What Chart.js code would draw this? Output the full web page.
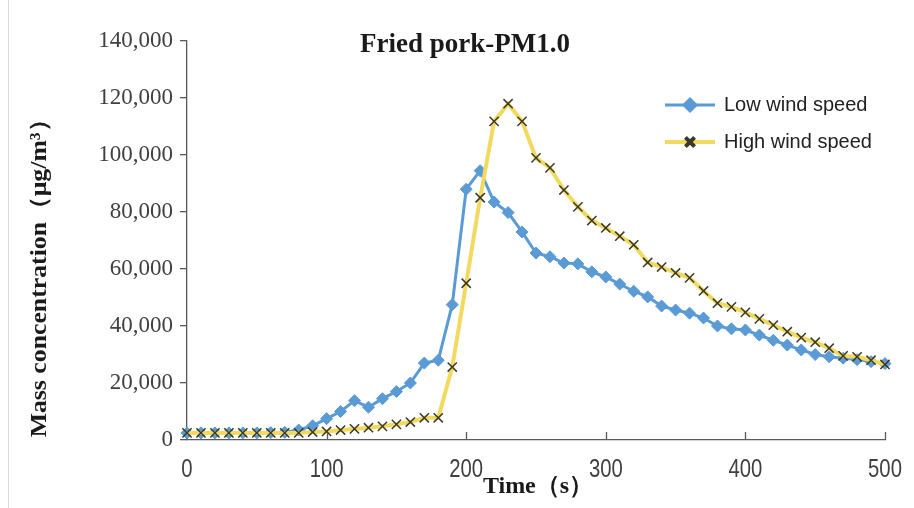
<!DOCTYPE html>
<html>
<head>
<meta charset="utf-8">
<script src="https://cdn.jsdelivr.net/npm/chart.js@4.4.0/dist/chart.umd.min.js"></script>
<style>
  html, body { margin: 0; padding: 0; background: #fff; }
  #wrap { width: 914px; height: 508px; }
</style>
</head>
<body>
<div id="wrap"><canvas id="pmChart" width="914" height="508"></canvas></div>
<script>
// sampling times (s)
const times = [0, 10, 20, 30, 40, 50, 60, 70, 80, 90,
  100, 110, 120, 130, 140, 150, 160, 170, 180, 190,
  200, 210, 220, 230, 240, 250, 260, 270, 280, 290,
  300, 310, 320, 330, 340, 350, 360, 370, 380, 390,
  400, 410, 420, 430, 440, 450, 460, 470, 480, 490, 500];

// PM1.0 mass concentration, ug/m3
const lowWind = [2500, 2500, 2500, 2500, 2500, 2500, 2600, 2700, 3500, 5000,
  7500, 10000, 13800, 11500, 14500, 17000, 20000, 27000, 28000, 47500,
  88000, 94500, 83500, 79800, 73000, 65600, 64300, 62100, 61800, 59000,
  57200, 54700, 52200, 50200, 47000, 45600, 44500, 42800, 40000, 39000,
  38600, 36800, 35000, 33300, 31600, 30000, 29200, 28700, 28200, 27500, 26800];

const highWind = [2500, 2500, 2500, 2500, 2500, 2500, 2500, 2500, 2500, 2800,
  3000, 3500, 3900, 4300, 4800, 5500, 6300, 7800, 7800, 25600,
  55000, 85000, 111800, 118000, 111800, 99000, 95500, 87700, 81800, 77000,
  74400, 71500, 68500, 62300, 60700, 58600, 56900, 52300, 48000, 46700,
  44800, 42500, 40300, 38000, 35900, 34300, 32200, 29500, 29200, 28000, 26500];

const seriesNames = ['Low wind speed', 'High wind speed'];
const xTicks = [0, 100, 200, 300, 400, 500];
const yTicks = [0, 20000, 40000, 60000, 80000, 100000, 120000, 140000];

const axisColor = '#595959';
const blue = '#5B9BD5';
const yellow = '#F2DA60';
const crossColor = '#3b3a26';

function toPoints(vals) {
  return times.map((t, i) => ({ x: t, y: vals[i] }));
}

// titles, narrow x labels, inward x ticks and the in-plot legend
const decor = {
  id: 'decor',
  beforeDraw(chart) {
    const ctx = chart.ctx;
    ctx.save();
    ctx.fillStyle = '#fff';
    ctx.fillRect(0, 0, chart.width, chart.height);
    ctx.strokeStyle = '#dcdcdc';
    ctx.lineWidth = 1;
    ctx.beginPath();
    ctx.moveTo(8.5, 0);
    ctx.lineTo(8.5, chart.height);
    ctx.stroke();
    ctx.restore();
  },
  beforeDatasetsDraw(chart) {
    const { ctx, chartArea, scales: { x } } = chart;
    ctx.save();
    ctx.strokeStyle = axisColor;
    ctx.lineWidth = 1.3;
    xTicks.forEach(v => {
      if (v === 0) return;
      const px = Math.round(x.getPixelForValue(v)) + 0.5;
      ctx.beginPath();
      ctx.moveTo(px, chartArea.bottom);
      ctx.lineTo(px, chartArea.bottom - 8);
      ctx.stroke();
    });
    ctx.restore();
  },
  afterDraw(chart) {
    const { ctx, chartArea, scales: { x } } = chart;
    ctx.save();
    ctx.textBaseline = 'middle';
    ctx.textAlign = 'center';

    // x tick labels in a condensed face
    ctx.fillStyle = '#404040';
    ctx.font = '26px "Liberation Sans", Arial, sans-serif';
    xTicks.forEach(v => {
      ctx.save();
      ctx.translate(x.getPixelForValue(v), chartArea.bottom + 30);
      ctx.scale(0.78, 1);
      ctx.fillText(String(v), 0, 0);
      ctx.restore();
    });

    ctx.fillStyle = '#1a1a1a';

    // chart title
    ctx.font = 'bold 27px "Liberation Serif", serif';
    ctx.fillText('Fried pork-PM1.0', 465, 45);

    // x axis title, sits over the tick labels
    ctx.font = 'bold 24px "Liberation Serif", serif';
    ctx.fillText('Time（s）', (chartArea.left + chartArea.right) / 2 + 2, 487);

    // y axis title
    ctx.save();
    ctx.translate(40, 272);
    ctx.rotate(-Math.PI / 2);
    ctx.scale(1.12, 1);
    ctx.font = 'bold 23px "Liberation Serif", serif';
    ctx.fillText('Mass concentration（μg/m³）', 0, 0);
    ctx.restore();

    // legend
    const rows = [
      { y: 105, ds: chart.data.datasets[0] },
      { y: 142, ds: chart.data.datasets[1] }
    ];
    rows.forEach(r => {
      ctx.strokeStyle = r.ds.borderColor;
      ctx.lineWidth = r.ds.borderWidth;
      ctx.beginPath();
      ctx.moveTo(665, r.y);
      ctx.lineTo(715, r.y);
      ctx.stroke();
      ctx.fillStyle = r.ds.pointBackgroundColor;
      ctx.strokeStyle = r.ds.pointBorderColor;
      Chart.helpers.drawPoint(ctx, {
        pointStyle: r.ds.pointStyle,
        radius: r.ds.pointRadius,
        rotation: 0,
        borderWidth: r.ds.pointBorderWidth
      }, 690, r.y);
      ctx.fillStyle = '#222';
      ctx.textAlign = 'left';
      ctx.font = '20px "Liberation Sans", Arial, sans-serif';
      ctx.fillText(r.ds.label, 724, r.y);
    });
    ctx.restore();
  }
};

new Chart(document.getElementById('pmChart').getContext('2d'), {
  type: 'line',
  data: {
    datasets: [
      {
        label: seriesNames[0],
        data: toPoints(lowWind),
        borderColor: blue,
        borderWidth: 3,
        pointStyle: 'rectRot',
        pointRadius: 6,
        pointBackgroundColor: blue,
        pointBorderColor: blue,
        pointBorderWidth: 1,
        tension: 0,
        clip: false,
        order: 1
      },
      {
        label: seriesNames[1],
        data: toPoints(highWind),
        borderColor: yellow,
        borderWidth: 4,
        pointStyle: 'crossRot',
        pointRadius: 6.5,
        pointBackgroundColor: crossColor,
        pointBorderColor: crossColor,
        pointBorderWidth: 1.5,
        tension: 0,
        clip: false,
        order: 0
      }
    ]
  },
  options: {
    responsive: false,
    animation: false,
    layout: { padding: { top: 41, right: 29, left: 0, bottom: 0 } },
    plugins: {
      legend: { display: false },
      title: { display: false },
      tooltip: { enabled: false }
    },
    scales: {
      x: {
        type: 'linear',
        min: 0,
        max: 500,
        afterBuildTicks: s => { s.ticks = xTicks.map(v => ({ value: v })); },
        afterFit: s => { s.height = 68; },
        grid: { display: false },
        border: { color: axisColor, width: 1.3 },
        ticks: { display: false }
      },
      y: {
        min: 0,
        max: 140000,
        afterBuildTicks: s => { s.ticks = yTicks.map(v => ({ value: v })); },
        afterFit: s => { s.width = 187; },
        grid: { drawOnChartArea: false, tickLength: 7, color: axisColor, lineWidth: 1.3 },
        border: { color: axisColor, width: 1.3 },
        ticks: {
          padding: 7,
          color: '#404040',
          font: { family: '"Liberation Serif", serif', size: 23 },
          callback: v => v.toLocaleString('en-US')
        }
      }
    }
  },
  plugins: [decor]
});
</script>
</body>
</html>
